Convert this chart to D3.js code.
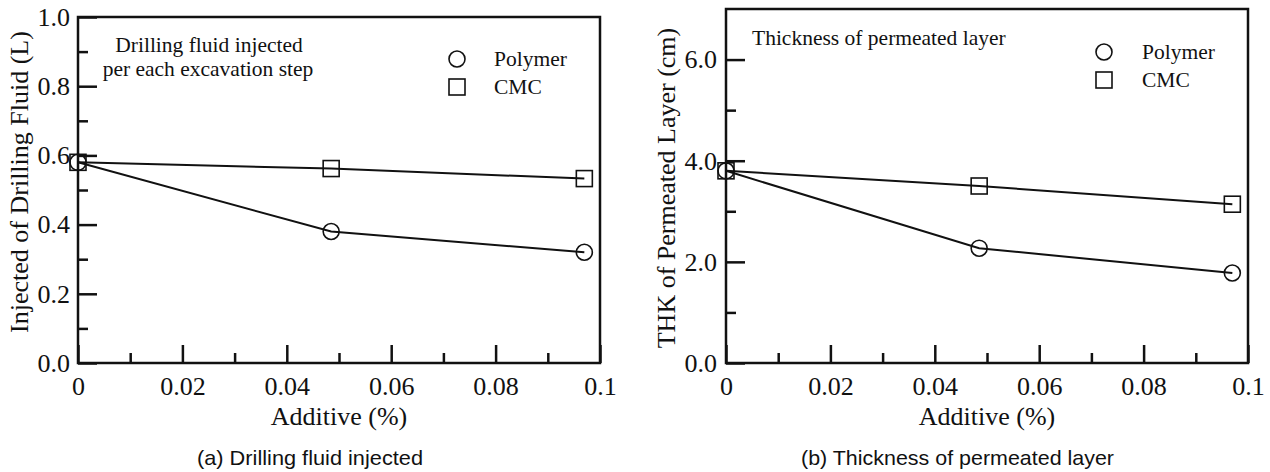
<!DOCTYPE html>
<html>
<head>
<meta charset="utf-8">
<script src="https://cdn.jsdelivr.net/npm/d3@7"></script>
<style>
    body { margin: 0; background: #fff; }
    svg { display: block; }
    .serif { font-family: "Liberation Serif", "Times New Roman", serif; fill: #111; }
    .caption { font-family: "Liberation Sans", Arial, sans-serif; font-size: 21px; fill: #111; }
</style>
</head>
<body>
<div id="chart-area"></div>
<script>
// shared x values (additive %)
const additive = [0, 0.0485, 0.097];
const xMajorTicks = [0, 0.02, 0.04, 0.06, 0.08, 0.1];
const xMinorTicks = [0.01, 0.03, 0.05, 0.07, 0.09];

// (a) drilling fluid injected (L)
const fluidPolymer = [0.58, 0.38, 0.32];
const fluidCMC = [0.58, 0.562, 0.533];
const fluidMajorTicks = [0, 0.2, 0.4, 0.6, 0.8, 1.0];
const fluidMinorTicks = [0.1, 0.3, 0.5, 0.7, 0.9];

// (b) thickness of permeated layer (cm)
const thkPolymer = [3.8, 2.27, 1.78];
const thkCMC = [3.8, 3.5, 3.14];
const thkMajorTicks = [0, 2, 4, 6];
const thkMinorTicks = [1, 3, 5];

const seriesNames = ["Polymer", "CMC"];

const panels = [
    {
        left: 78, top: 17, width: 522, height: 346,
        yDomain: [0, 1], yMajor: fluidMajorTicks, yMinor: fluidMinorTicks,
        polymer: fluidPolymer, cmc: fluidCMC,
        yLabel: "Injected of Drilling Fluid (L)", yLabelX: 28, yLabelY: 182,
        notes: [{ text: "Drilling fluid injected", x: 209, y: 52, anchor: "middle" },
                { text: "per each excavation step", x: 208, y: 76, anchor: "middle" }],
        legendX: 457, legendY: 59, legendTextX: 494,
        caption: "(a) Drilling fluid injected", captionX: 197, captionLen: 226,
        yPad: 8,
    },
    {
        left: 726, top: 9, width: 522, height: 354,
        yDomain: [0, 7], yMajor: thkMajorTicks, yMinor: thkMinorTicks,
        polymer: thkPolymer, cmc: thkCMC,
        yLabel: "THK of Permeated Layer (cm)", yLabelX: 675, yLabelY: 188,
        notes: [{ text: "Thickness of permeated layer", x: 752, y: 45, anchor: "start" }],
        legendX: 1104, legendY: 52, legendTextX: 1142,
        caption: "(b) Thickness of permeated layer", captionX: 801, captionLen: 313,
        yPad: 9,
    },
];

const markerR = 8;

const drawMarker = function (g, kind, cx, cy) {
    if (kind === "Polymer") {
        g.append("circle")
            .attr("cx", cx).attr("cy", cy).attr("r", markerR)
            .attr("fill", "none").attr("stroke", "#111").attr("stroke-width", 1.6);
    } else {
        g.append("rect")
            .attr("x", cx - markerR).attr("y", cy - markerR)
            .attr("width", markerR * 2).attr("height", markerR * 2)
            .attr("fill", "none").attr("stroke", "#111").attr("stroke-width", 1.6);
    }
}

const styleAxis = function (a) {
    a.select(".domain").remove();
    a.attr("font-family", "Liberation Serif, Times New Roman, serif")
        .attr("font-size", 26);
    a.selectAll(".tick line").attr("stroke", "#111").attr("stroke-width", 2.5);
    a.selectAll(".tick text").attr("fill", "#111");
}

const drawPanel = function (svg, p) {
    const g = svg.append("g").attr("transform", `translate(${p.left}, ${p.top})`);

    const x = d3.scaleLinear().domain([0, 0.1]).range([0, p.width]);
    const y = d3.scaleLinear().domain(p.yDomain).range([p.height, 0]);

    // major & minor ticks, pointing inward
    g.append("g")
        .attr("transform", `translate(0, ${p.height})`)
        .call(d3.axisBottom(x).tickValues(xMajorTicks).tickSize(-18).tickPadding(14)
            .tickFormat(d3.format("~g")))
        .call(styleAxis);
    g.append("g")
        .attr("transform", `translate(0, ${p.height})`)
        .call(d3.axisBottom(x).tickValues(xMinorTicks).tickSize(-10).tickFormat(""))
        .call(styleAxis);

    g.append("g")
        .call(d3.axisLeft(y).tickValues(p.yMajor).tickSize(-19).tickPadding(p.yPad)
            .tickFormat(d3.format(".1f")))
        .call(styleAxis);
    g.append("g")
        .call(d3.axisLeft(y).tickValues(p.yMinor).tickSize(-10).tickFormat(""))
        .call(styleAxis);

    // frame
    g.append("rect")
        .attr("width", p.width).attr("height", p.height)
        .attr("fill", "none").attr("stroke", "#111").attr("stroke-width", 2.5);

    const line = d3.line()
        .x(d => x(d[0]))
        .y(d => y(d[1]));

    const series = [
        { name: "Polymer", values: p.polymer },
        { name: "CMC", values: p.cmc },
    ];

    series.forEach(s => {
        const pts = additive.map((a, i) => [a, s.values[i]]);
        g.append("path")
            .attr("d", line(pts))
            .attr("fill", "none").attr("stroke", "#111").attr("stroke-width", 2);
    });
    series.forEach(s => {
        additive.forEach((a, i) => drawMarker(g, s.name, x(a), y(s.values[i])));
    });

    // axis titles
    svg.append("text")
        .attr("class", "serif")
        .attr("font-size", 26)
        .attr("text-anchor", "middle")
        .attr("transform", `translate(${p.yLabelX}, ${p.yLabelY}) rotate(-90)`)
        .text(p.yLabel);

    svg.append("text")
        .attr("class", "serif")
        .attr("font-size", 26)
        .attr("text-anchor", "middle")
        .attr("x", p.left + p.width / 2)
        .attr("y", 425)
        .text("Additive (%)");

    // notes in plot
    p.notes.forEach(n => {
        svg.append("text")
            .attr("class", "serif")
            .attr("font-size", 21.5)
            .attr("text-anchor", n.anchor)
            .attr("x", n.x).attr("y", n.y)
            .text(n.text);
    });

    // legend
    seriesNames.forEach((name, i) => {
        const cy = p.legendY + i * 28;
        drawMarker(svg, name, p.legendX, cy);
        svg.append("text")
            .attr("class", "serif")
            .attr("font-size", 21.5)
            .attr("x", p.legendTextX)
            .attr("y", cy + 7)
            .text(name);
    });

    // caption
    svg.append("text")
        .attr("class", "caption")
        .attr("x", p.captionX)
        .attr("y", 465)
        .attr("textLength", p.captionLen)
        .attr("lengthAdjust", "spacingAndGlyphs")
        .text(p.caption);
}

const main = () => {
    const svg = d3.select("#chart-area")
        .append("svg")
        .attr("width", 1270)
        .attr("height", 472);
    panels.forEach(p => drawPanel(svg, p));
}

window.onload = main;
</script>
</body>
</html>
